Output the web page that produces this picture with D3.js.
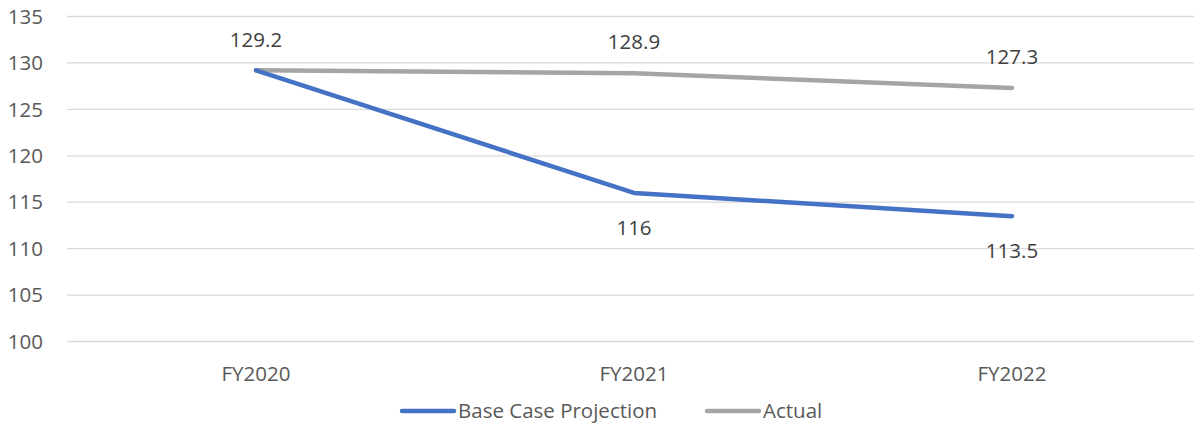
<!DOCTYPE html>
<html>
<head>
<meta charset="utf-8">
<script src="https://cdn.jsdelivr.net/npm/d3@7"></script>
<style>
  body { margin: 0; background: #fff; }
  text { font-family: "Open Sans", Lato, sans-serif; }
</style>
</head>
<body>
<div id="chart"></div>
<script>
// chart data
const categories = ["FY2020", "FY2021", "FY2022"];
const baseCase = [129.2, 116, 113.5];
const actual = [129.2, 128.9, 127.3];
const yTicks = [100, 105, 110, 115, 120, 125, 130, 135];

const W = 1194, H = 426;
const margin = { top: 16.5, left: 67, right: -7, bottom: 84.5 };
const width = W - margin.left - margin.right,
  height = H - margin.top - margin.bottom;
const fs = "20.5px";

const svg = d3.select("#chart").append("svg")
  .attr("width", W).attr("height", H);

const g = svg.append("g")
  .attr("transform", "translate(" + margin.left + "," + margin.top + ")");

const x = d3.scaleBand().domain(categories).range([0, width]);
const y = d3.scaleLinear().domain([100, 135]).range([height, 0]);

// gridlines
g.selectAll(".grid").data(yTicks).enter().append("line")
  .attr("x1", 0).attr("x2", width)
  .attr("y1", d => y(d)).attr("y2", d => y(d))
  .attr("stroke", "#d9d9d9").attr("stroke-width", 1.3);

// y labels
g.selectAll(".ylab").data(yTicks).enter().append("text")
  .attr("x", -24).attr("y", d => y(d)).attr("dy", "0.35em")
  .attr("text-anchor", "end").attr("fill", "#595959")
  .style("font-size", fs).text(d => d);

// x labels
g.selectAll(".xlab").data(categories).enter().append("text")
  .attr("x", d => x(d) + x.bandwidth() / 2).attr("y", height + 32)
  .attr("dy", "0.35em").attr("text-anchor", "middle").attr("fill", "#595959")
  .style("font-size", fs).text(d => d);

const cx = (d, i) => x(categories[i]) + x.bandwidth() / 2;
const line = d3.line().x(cx).y(d => y(d));

const series = [
  { name: "Base Case Projection", values: baseCase, color: "#4472C4", above: false },
  { name: "Actual", values: actual, color: "#A5A5A5", above: true },
];

// draw gray first so blue sits on top like the original
series.slice().reverse().forEach(s => {
  g.append("path").datum(s.values)
    .attr("d", line).attr("fill", "none")
    .attr("stroke", s.color).attr("stroke-width", 4.5)
    .attr("stroke-linecap", "round").attr("stroke-linejoin", "round");
});

// data labels (first base case value overlaps actual, so only actual shows it)
series.forEach(s => {
  s.values.forEach((v, i) => {
    if (!s.above && i === 0) return;
    g.append("text")
      .attr("x", cx(v, i))
      .attr("y", s.above ? y(v) - 31 : y(v) + 35)
      .attr("dy", "0.35em").attr("text-anchor", "middle")
      .attr("fill", "#404040").style("font-size", fs)
      .text(v);
  });
});

// legend
const legendX = [400, 705];
const legend = svg.selectAll(".legend").data(series).enter().append("g")
  .attr("transform", (d, i) => "translate(" + legendX[i] + ",411)");
legend.append("line")
  .attr("x1", 2).attr("x2", 54).attr("y1", 0).attr("y2", 0)
  .attr("stroke", d => d.color).attr("stroke-width", 4.5)
  .attr("stroke-linecap", "round");
legend.append("text")
  .attr("x", 58).attr("dy", "0.35em").attr("fill", "#595959")
  .style("font-size", fs).text(d => d.name);
</script>
</body>
</html>
